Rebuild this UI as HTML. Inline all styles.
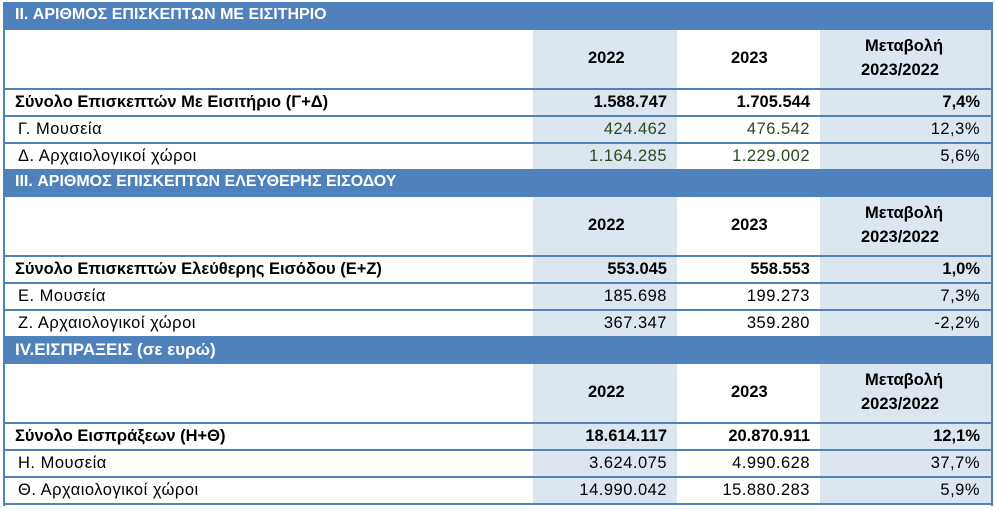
<!DOCTYPE html>
<html><head><meta charset="utf-8"><style>
body{margin:0;width:995px;height:509px;background:#fff;position:relative;overflow:hidden;font-family:"Liberation Sans","DejaVu Sans",sans-serif;font-size:16.5px;color:#000}
div{position:absolute;box-sizing:border-box}
.sec{left:3px;width:990px;height:167px;border-left:2px solid #4f81bd;border-right:2px solid #4f81bd}
.hd{left:0;top:0;width:100%;height:28px;background:#4f81bd;color:#fff;font-weight:bold;padding:4px 0 0 10px;font-size:16px}
.c1{left:528px;top:28px;width:144px;height:139px;background:#dce6f1}
.c3{left:815px;top:28px;width:171px;height:139px;background:#dce6f1}
.ln{left:0;width:100%;height:2px;background:#4f81bd}
.t{white-space:nowrap;line-height:19px}
.b{font-weight:bold}
.n{letter-spacing:0.5px}
.r{text-align:right}
.g{color:#2a4a1c}
</style></head><body>

<div class="sec" style="top:2px">
<div class="hd">II. ΑΡΙΘΜΟΣ ΕΠΙΣΚΕΠΤΩΝ ΜΕ ΕΙΣΙΤΗΡΙΟ</div>
<div class="c1"></div><div class="c3"></div>
<div class="t b" style="left:583px;top:47px">2022</div>
<div class="t b" style="left:726px;top:47px">2023</div>
<div class="t b" style="left:860px;top:35px">Μεταβολή</div>
<div class="t b" style="left:856px;top:59px">2023/2022</div>
<div class="ln" style="top:86px"></div>
<div class="ln" style="top:113px"></div>
<div class="ln" style="top:140px"></div>
<div class="t b" style="left:10px;top:91px">Σύνολο Επισκεπτών Με Εισιτήριο (Γ+Δ)</div>
<div class="t b r" style="left:528px;width:134px;top:91px">1.588.747</div>
<div class="t b r" style="left:672px;width:133px;top:91px">1.705.544</div>
<div class="t b r" style="left:815px;width:160px;top:91px">7,4%</div>
<div class="t n" style="left:13px;top:118px">Γ. Μουσεία</div>
<div class="t n r g" style="left:528px;width:134px;top:118px">424.462</div>
<div class="t n r g" style="left:672px;width:133px;top:118px">476.542</div>
<div class="t n r" style="left:815px;width:160px;top:118px">12,3%</div>
<div class="t n" style="left:13px;top:145px">Δ. Αρχαιολογικοί χώροι</div>
<div class="t n r g" style="left:528px;width:134px;top:145px">1.164.285</div>
<div class="t n r g" style="left:672px;width:133px;top:145px">1.229.002</div>
<div class="t n r" style="left:815px;width:160px;top:145px">5,6%</div>
</div>

<div class="sec" style="top:169px">
<div class="hd">III. ΑΡΙΘΜΟΣ ΕΠΙΣΚΕΠΤΩΝ ΕΛΕΥΘΕΡΗΣ ΕΙΣΟΔΟΥ</div>
<div class="c1"></div><div class="c3"></div>
<div class="t b" style="left:583px;top:47px">2022</div>
<div class="t b" style="left:726px;top:47px">2023</div>
<div class="t b" style="left:860px;top:35px">Μεταβολή</div>
<div class="t b" style="left:856px;top:59px">2023/2022</div>
<div class="ln" style="top:86px"></div>
<div class="ln" style="top:113px"></div>
<div class="ln" style="top:140px"></div>
<div class="t b" style="left:10px;top:91px">Σύνολο Επισκεπτών Ελεύθερης Εισόδου (Ε+Ζ)</div>
<div class="t b r" style="left:528px;width:134px;top:91px">553.045</div>
<div class="t b r" style="left:672px;width:133px;top:91px">558.553</div>
<div class="t b r" style="left:815px;width:160px;top:91px">1,0%</div>
<div class="t n" style="left:13px;top:118px">Ε. Μουσεία</div>
<div class="t n r" style="left:528px;width:134px;top:118px">185.698</div>
<div class="t n r" style="left:672px;width:133px;top:118px">199.273</div>
<div class="t n r" style="left:815px;width:160px;top:118px">7,3%</div>
<div class="t n" style="left:13px;top:145px">Ζ. Αρχαιολογικοί χώροι</div>
<div class="t n r" style="left:528px;width:134px;top:145px">367.347</div>
<div class="t n r" style="left:672px;width:133px;top:145px">359.280</div>
<div class="t n r" style="left:815px;width:160px;top:145px">-2,2%</div>
</div>

<div class="sec" style="top:336px;height:170px">
<div class="hd" style="font-size:17px">IV.ΕΙΣΠΡΑΞΕΙΣ (σε ευρώ)</div>
<div class="c1"></div><div class="c3"></div>
<div class="t b" style="left:583px;top:47px">2022</div>
<div class="t b" style="left:726px;top:47px">2023</div>
<div class="t b" style="left:860px;top:35px">Μεταβολή</div>
<div class="t b" style="left:856px;top:59px">2023/2022</div>
<div class="ln" style="top:86px"></div>
<div class="ln" style="top:113px"></div>
<div class="ln" style="top:140px"></div>
<div class="ln" style="top:167px"></div>
<div class="t b" style="left:10px;top:91px">Σύνολο Εισπράξεων (Η+Θ)</div>
<div class="t b r" style="left:528px;width:134px;top:91px">18.614.117</div>
<div class="t b r" style="left:672px;width:133px;top:91px">20.870.911</div>
<div class="t b r" style="left:815px;width:160px;top:91px">12,1%</div>
<div class="t n" style="left:13px;top:118px">Η. Μουσεία</div>
<div class="t n r" style="left:528px;width:134px;top:118px">3.624.075</div>
<div class="t n r" style="left:672px;width:133px;top:118px">4.990.628</div>
<div class="t n r" style="left:815px;width:160px;top:118px">37,7%</div>
<div class="t n" style="left:13px;top:145px">Θ. Αρχαιολογικοί χώροι</div>
<div class="t n r" style="left:528px;width:134px;top:145px">14.990.042</div>
<div class="t n r" style="left:672px;width:133px;top:145px">15.880.283</div>
<div class="t n r" style="left:815px;width:160px;top:145px">5,9%</div>
</div>
</body></html>
